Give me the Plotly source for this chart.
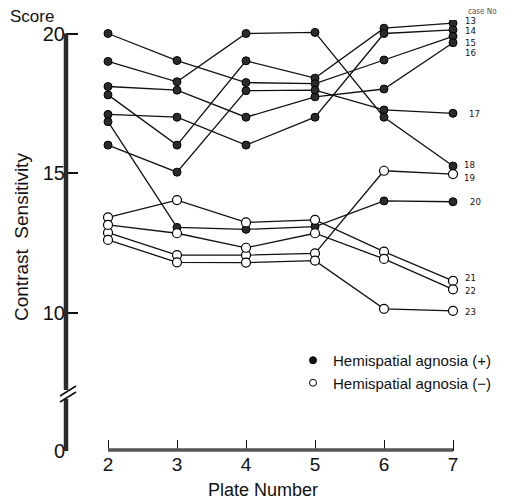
import plotly.graph_objects as go

# ---- data ----
plates = [2, 3, 4, 5, 6, 7]

case_positive = {   # Hemispatial agnosia (+)
    "13": [17.8, 16.0, 19.02, 18.4, 20.19, 20.37],
    "14": [17.1, 17.0, 16.0, 17.0, 20.0, 20.13],
    "15": [20.0, 19.03, 18.24, 18.2, 19.05, 19.9],
    "16": [18.1, 17.97, 17.0, 17.73, 18.01, 19.67],
    "17": [16.0, 15.03, 17.95, 17.97, 17.26, 17.14],
    "18": [19.0, 18.27, 20.0, 20.04, 17.0, 15.25],
    "20": [16.84, 13.05, 12.98, 13.08, 14.0, 13.97],
}
case_negative = {   # Hemispatial agnosia (-)
    "19": [12.86, 12.06, 12.06, 12.12, 15.08, 14.96],
    "21": [13.41, 14.03, 13.23, 13.32, 12.18, 11.13],
    "22": [13.14, 12.84, 12.32, 12.84, 11.92, 10.83],
    "23": [12.6, 11.8, 11.79, 11.86, 10.13, 10.06],
}
y_ticks_upper = [10, 15, 20]
y_ticks_lower = [0]

# ---- label styling (pixel offsets of case numbers) ----
label_shift = {"13": (10, 3), "14": (10, -1), "15": (10, -6), "16": (10, -10),
               "17": (14, 0), "18": (9, 2), "19": (9, -3), "20": (15, 0),
               "21": (10, 3), "22": (10, -1), "23": (10, -1)}

# page body has an 8px margin: work in reference pixels, convert below
BODY = 8
REF_W, REF_H = 522, 503
W, H = REF_W - BODY, REF_H - BODY
R_LEFT, R_RIGHT, R_TOP, R_BOTTOM = 66, 470, 20, 451   # plot area in reference px
ML, MT = R_LEFT - BODY, R_TOP - BODY
MR, MB = REF_W - R_RIGHT, REF_H - R_BOTTOM
PW, PH = R_RIGHT - R_LEFT, R_BOTTOM - R_TOP
px_per_x = 69.0
px_per_y = 27.9
x_lo = 2 - (108 - R_LEFT) / px_per_x
x_hi = x_lo + PW / px_per_x
up_bottom_px = 390
low_top_px = 399
y_up_top = 20 + (33.5 - R_TOP) / px_per_y
y_up_bot = 20 - (up_bottom_px - 33.5) / px_per_y
d_up0 = (R_BOTTOM - up_bottom_px) / PH
d_low1 = (R_BOTTOM - low_top_px) / PH
y_low_top = (R_BOTTOM - low_top_px) / px_per_y

def px_to_paper(px, py):
    return (px - R_LEFT) / PW, (R_BOTTOM - py) / PH

FONT = "Liberation Sans, Arial, sans-serif"
NARROW = "Liberation Sans Narrow, DejaVu Sans Condensed, Liberation Sans, sans-serif"

fig = go.Figure()

all_cases = list(case_positive.items()) + list(case_negative.items())
for name, vals in all_cases:
    fig.add_trace(go.Scatter(x=plates, y=vals, mode="lines",
                             line=dict(color="#111", width=1.3),
                             showlegend=False, hoverinfo="skip"))
for name, vals in case_positive.items():
    fig.add_trace(go.Scatter(x=plates, y=vals, mode="markers",
                             marker=dict(size=8, color="#2b2b2b",
                                         line=dict(color="#000", width=1)),
                             showlegend=False, name="case " + name))
for name, vals in case_negative.items():
    fig.add_trace(go.Scatter(x=plates, y=vals, mode="markers",
                             marker=dict(size=9, color="white",
                                         line=dict(color="#000", width=1.2)),
                             showlegend=False, name="case " + name))

# legend entries
fig.add_trace(go.Scatter(x=[None], y=[None], mode="markers",
                         marker=dict(size=7, color="#111", line=dict(color="#000", width=1)),
                         name="Hemispatial agnosia (+)"))
fig.add_trace(go.Scatter(x=[None], y=[None], mode="markers",
                         marker=dict(size=7, color="white", line=dict(color="#000", width=1)),
                         name="Hemispatial agnosia (\u2212)"))

# case number labels
for name, vals in all_cases:
    dx, dy = label_shift[name]
    fig.add_annotation(x=7, y=vals[-1], xref="x", yref="y", text=name,
                       showarrow=False, xanchor="left", yanchor="middle",
                       xshift=dx, yshift=dy,
                       font=dict(family=NARROW, size=9.5, color="#111"))

shapes = []
shapes.append(dict(type="line", xref="paper", yref="y", x0=0, x1=0,
                   y0=20, y1=y_up_bot, line=dict(color="#2a2a2a", width=4.5)))
shapes.append(dict(type="line", xref="paper", yref="y2", x0=0, x1=0,
                   y0=0, y1=y_low_top, line=dict(color="#2a2a2a", width=4.5)))
for off in (0, 6):
    xa, ya = px_to_paper(60, 402 - off)
    xb, yb = px_to_paper(76, 392 - off)
    shapes.append(dict(type="line", xref="paper", yref="paper", x0=xa, y0=ya,
                       x1=xb, y1=yb, line=dict(color="#111", width=1.6)))
_, yx = px_to_paper(0, 450)
shapes.append(dict(type="line", xref="x", yref="paper", x0=2, x1=7,
                   y0=yx, y1=yx, line=dict(color="#555", width=3.5)))

fig.update_layout(
    width=W, height=H,
    margin=dict(l=ML, r=MR, t=MT, b=MB, autoexpand=False),
    paper_bgcolor="white", plot_bgcolor="white",
    font=dict(family=FONT, color="#111"),
    shapes=shapes,
    xaxis=dict(range=[x_lo, x_hi], tickvals=plates, ticks="inside",
               ticklen=11, tickwidth=1.4, tickcolor="#111",
               showgrid=False, zeroline=False, showline=False,
               anchor="y2", tickfont=dict(size=19, family=FONT, color="#111")),
    yaxis=dict(domain=[d_up0, 1], range=[y_up_bot, y_up_top],
               tickvals=y_ticks_upper, ticks="inside", ticklen=12,
               tickwidth=1.6, tickcolor="#111", showgrid=False,
               zeroline=False, showline=False,
               tickfont=dict(size=20, family=FONT, color="#111")),
    yaxis2=dict(domain=[0, d_low1], range=[0, y_low_top],
                tickvals=y_ticks_lower, ticks="inside", ticklen=13,
                tickwidth=1.6, tickcolor="#111", showgrid=False,
                zeroline=False, showline=False,
                tickfont=dict(size=20, family=FONT, color="#111")),
    legend=dict(x=(293 - R_LEFT) / PW, y=(R_BOTTOM - 344) / PH,
                xanchor="left", yanchor="top", bgcolor="rgba(0,0,0,0)",
                font=dict(size=15, family=FONT, color="#111"),
                itemwidth=30, tracegroupgap=0),
    showlegend=True,
)

fig.add_annotation(text="Score", xref="paper", yref="paper",
                   x=px_to_paper(8, 0)[0], y=px_to_paper(0, 17)[1],
                   xanchor="left", yanchor="middle", showarrow=False,
                   font=dict(size=17, family=FONT, color="#111"))
fig.add_annotation(text="Contrast  Sensitivity", xref="paper", yref="paper",
                   x=px_to_paper(21, 0)[0], y=px_to_paper(0, 237)[1],
                   xanchor="center", yanchor="middle", textangle=-90,
                   showarrow=False,
                   font=dict(size=19, family=FONT, color="#111"))
fig.add_annotation(text="Plate Number", xref="paper", yref="paper",
                   x=px_to_paper(263, 0)[0], y=px_to_paper(0, 490)[1],
                   xanchor="center", yanchor="middle", showarrow=False,
                   font=dict(size=18, family=FONT, color="#111"))
fig.add_annotation(text="case No", xref="paper", yref="paper",
                   x=px_to_paper(482, 0)[0], y=px_to_paper(0, 12)[1],
                   xanchor="center", yanchor="middle", showarrow=False,
                   font=dict(size=8, family=NARROW, color="#555"))

fig.write_html("out.html")
